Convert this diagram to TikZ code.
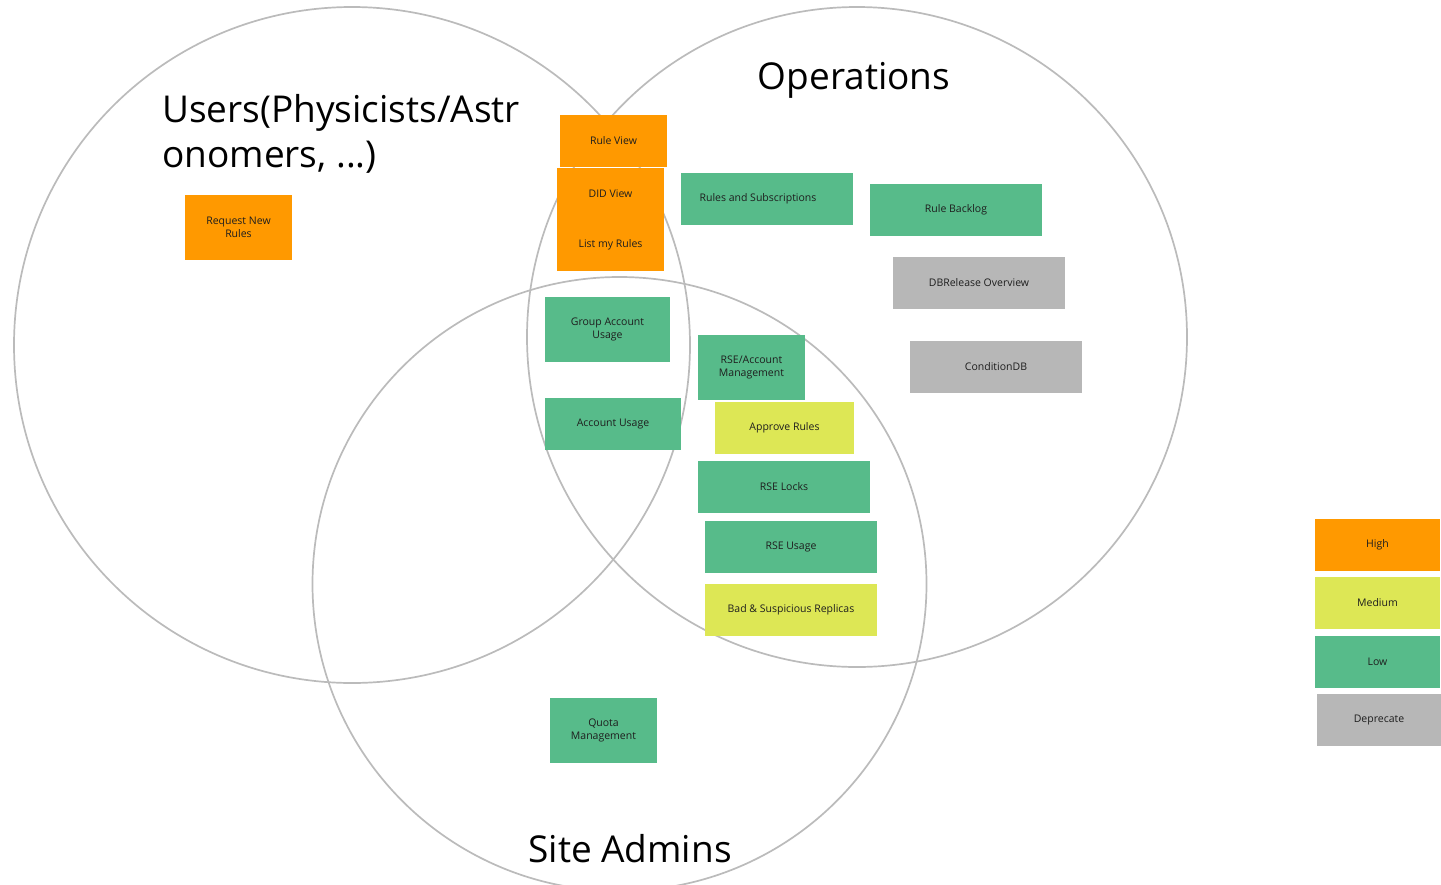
\documentclass[tikz,border=0pt]{standalone}
\usepackage{fontspec}
\setmainfont{Open Sans}
\definecolor{cHigh}{HTML}{FF9900}
\definecolor{cMed}{HTML}{DDE755}
\definecolor{cLow}{HTML}{57BB8A}
\definecolor{cDep}{HTML}{B7B7B7}
\definecolor{cRing}{HTML}{BBBBBB}
\definecolor{cTxt}{HTML}{1E1E1E}
\begin{document}
\begin{tikzpicture}[x=1pt,y=-1pt,
  ring/.style={draw=cRing,line width=1.7pt},
  card/.style={inner sep=0pt,align=center,text=cTxt,
    font=\fontsize{10.5}{13}\selectfont},
  hi/.style={card,fill=cHigh},
  med/.style={card,fill=cMed},
  lo/.style={card,fill=cLow},
  dep/.style={card,fill=cDep},
  title/.style={inner sep=0pt,text=black,font=\fontsize{37}{45}\selectfont}]
\useasboundingbox (0,0) rectangle (1441,884);
% circles
\draw[ring] (352,345) circle[radius=338];
\draw[ring] (857,337) circle[radius=330];
\draw[ring] (619.5,584) circle[radius=307];
% titles
\node[title,anchor=north west,align=left] (users) at (162,94) {Users(Physicists/Astr\\onomers, ...)};
\node[title] (ops) at (854,80) {Operations};
\node[title] (site) at (630,849) {Site Admins};
% cards
\node[hi,minimum width=107,minimum height=65] (req) at (238.5,227.5) {Request New\\Rules};
\node[hi,minimum width=107,minimum height=52] (ruleview) at (613.5,141) {Rule View};
\node[hi,minimum width=107,minimum height=51.5] (didview) at (610.5,194) {DID View};
\node[hi,minimum width=107,minimum height=51.5] (listmy) at (610.5,245) {List my Rules};
\node[lo,minimum width=172,minimum height=52] (rulesub) at (767,199) {Rules and Subscriptions\hspace{18pt}};
\node[lo,minimum width=172,minimum height=52] (backlog) at (956,210) {Rule Backlog};
\node[dep,minimum width=172,minimum height=52] (dbrel) at (979,283) {DBRelease Overview};
\node[dep,minimum width=172,minimum height=52] (cond) at (996,367) {ConditionDB};
\node[lo,minimum width=125,minimum height=65] (group) at (607.5,329.5) {Group Account\\Usage};
\node[lo,minimum width=107,minimum height=65] (rseacc) at (751.5,367.5) {RSE/Account\\Management};
\node[lo,minimum width=136,minimum height=52] (accusage) at (613,424) {Account Usage};
\node[med,minimum width=139,minimum height=52] (approve) at (784.5,428) {Approve Rules};
\node[lo,minimum width=172,minimum height=52] (rselocks) at (784,487) {RSE Locks};
\node[lo,minimum width=172,minimum height=52] (rseusage) at (791,547) {RSE Usage};
\node[med,minimum width=172,minimum height=52] (bad) at (791,610) {Bad \& Suspicious Replicas};
\node[lo,minimum width=107,minimum height=65] (quota) at (603.5,730.5) {Quota\\Management};
% legend
\node[hi,minimum width=125,minimum height=52] (high) at (1377.5,545) {High};
\node[med,minimum width=125,minimum height=52] (medium) at (1377.5,603) {Medium};
\node[lo,minimum width=125,minimum height=52] (low) at (1377.5,662) {Low};
\node[dep,minimum width=124,minimum height=52] (deprecate) at (1379,720) {Deprecate};
\end{tikzpicture}
\end{document}
